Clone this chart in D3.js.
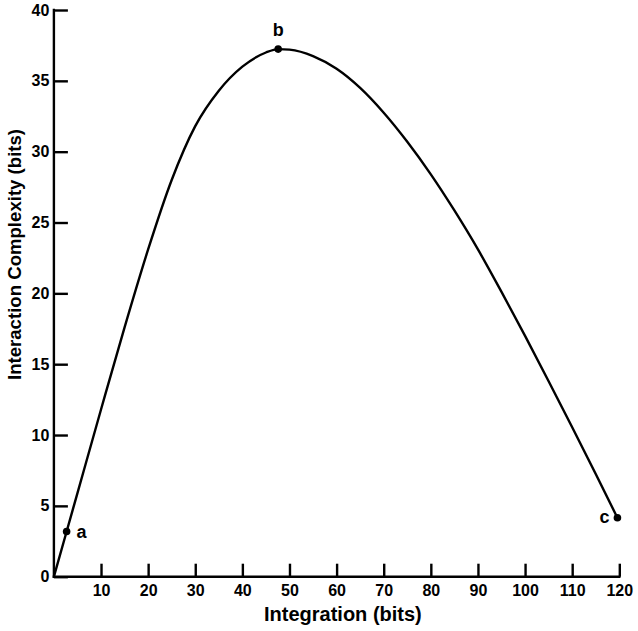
<!DOCTYPE html>
<html>
<head>
<meta charset="utf-8">
<script src="https://cdn.jsdelivr.net/npm/d3@7/dist/d3.min.js"></script>
<style>
  body { margin: 0; background: #fff; }
  svg text { font-family: "Liberation Sans", Arial, sans-serif; font-weight: bold; fill: #000; }
</style>
</head>
<body>
<svg id="chart"></svg>
<script>
// curve: integration (x) vs interaction complexity (y)
const integration = [0, 2.7, 5, 10, 15, 20, 25, 30, 35, 40, 45, 47.6, 50, 55, 60, 65, 70, 75, 80, 85, 90, 95, 100, 105, 110, 115, 119.6];
const complexity  = [0, 3.19, 5.9, 11.8, 17.6, 23.1, 28.0, 31.8, 34.3, 36.0, 37.0, 37.24, 37.2, 36.75, 35.85, 34.5, 32.75, 30.7, 28.4, 25.85, 23.1, 20.1, 17.0, 13.8, 10.55, 7.25, 4.16];

const markNames = ["a", "b", "c"];
const markX = [2.7, 47.6, 119.6];
const markY = [3.19, 37.24, 4.16];

const xTicks = [10, 20, 30, 40, 50, 60, 70, 80, 90, 100, 110, 120];
const yTicks = [0, 5, 10, 15, 20, 25, 30, 35, 40];

const W = 638, H = 631;
const margin = {top: 10, right: 18.7, bottom: 54.3, left: 53.9}
  , width = W - margin.left - margin.right
  , height = H - margin.top - margin.bottom;

const svg = d3.select("#chart")
  .attr("width", W)
  .attr("height", H)

const graph = svg.append("g")
  .attr("transform", "translate(" + margin.left + "," + margin.top + ")")

const xScale = d3.scaleLinear().domain([0, 120]).range([0, width]);
const yScale = d3.scaleLinear().domain([0, 40]).range([height, 0]);

// axes: ticks point inward
const xAxis = d3.axisTop(xScale).tickValues(xTicks).tickSize(13).tickSizeOuter(0);
const yAxis = d3.axisRight(yScale).tickValues(yTicks).tickSize(14).tickSizeOuter(0);

const gx = graph.append("g")
  .attr("transform", "translate(0," + height + ")")
  .call(xAxis);
gx.select(".domain").attr("d", "M0,0H" + width);
gx.selectAll("text")
  .attr("font-size", 16)
  .attr("dy", "0")
  .attr("y", 19.5);

const gy = graph.append("g")
  .call(yAxis);
gy.select(".domain").attr("d", "M0,0V" + height);
gy.selectAll("text")
  .attr("font-size", 16)
  .attr("text-anchor", "end")
  .attr("x", -4.5);

graph.selectAll(".domain, .tick line")
  .attr("stroke", "#000")
  .attr("stroke-width", 2.4)
  .attr("stroke-linecap", "square");
graph.selectAll(".tick line").attr("stroke-linecap", "butt");

// axis titles
graph.append("text")
  .attr("x", 289)
  .attr("y", height + 44)
  .attr("text-anchor", "middle")
  .attr("font-size", 20)
  .text("Integration (bits)");

svg.append("text")
  .attr("transform", "translate(21,254.5) rotate(-90)")
  .attr("text-anchor", "middle")
  .attr("font-size", 18.6)
  .text("Interaction Complexity (bits)");

// curve
const pts = integration.map((d, i) => [d, complexity[i]]);
const line = d3.line()
  .x(d => xScale(d[0]))
  .y(d => yScale(d[1]))
  .curve(d3.curveMonotoneX);

graph.append("path")
  .datum(pts)
  .attr("d", line)
  .attr("fill", "none")
  .attr("stroke", "#000")
  .attr("stroke-width", 2.4);

// labelled points
const marks = markNames.map((n, i) => ({name: n, x: markX[i], y: markY[i]}));
graph.selectAll("circle.mark")
  .data(marks)
  .enter().append("circle")
  .attr("class", "mark")
  .attr("cx", d => xScale(d.x))
  .attr("cy", d => yScale(d.y))
  .attr("r", 3.8)
  .attr("fill", "#000");

const labelPos = {
  a: {dx: 10, dy: 6.5, anchor: "start"},
  b: {dx: 0, dy: -13, anchor: "middle"},
  c: {dx: -8, dy: 5.5, anchor: "end"}
};
graph.selectAll("text.mark")
  .data(marks)
  .enter().append("text")
  .attr("class", "mark")
  .attr("x", d => xScale(d.x) + labelPos[d.name].dx)
  .attr("y", d => yScale(d.y) + labelPos[d.name].dy)
  .attr("text-anchor", d => labelPos[d.name].anchor)
  .attr("font-size", 18)
  .text(d => d.name);
</script>
</body>
</html>
